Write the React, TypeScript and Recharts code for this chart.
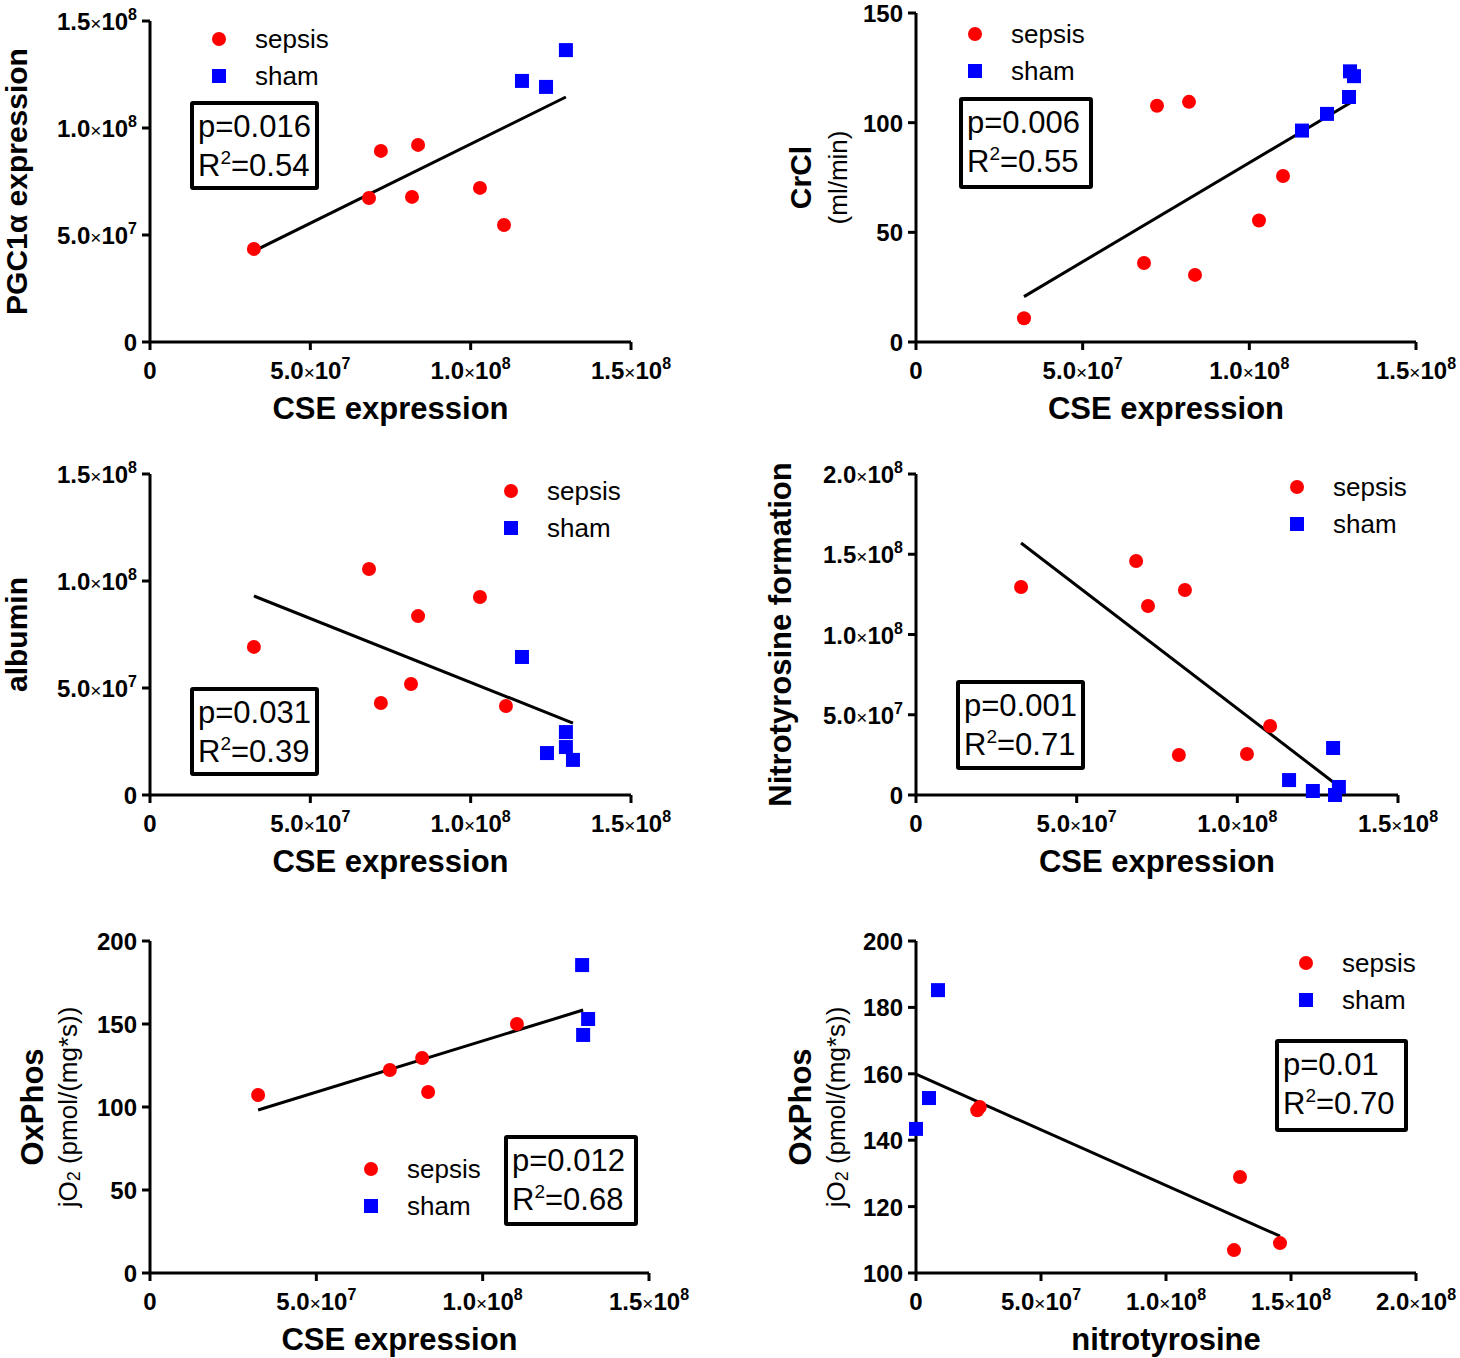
import React from 'react';
import { ScatterChart, Scatter, XAxis, YAxis, ReferenceLine, Legend } from 'recharts';

const FONT = '"Liberation Sans", Arial, Helvetica, sans-serif';
const RED = '#ff0000';
const BLUE = '#0000ff';
const X_AXIS_H = 40;
const Y_AXIS_W = 60;

type Pt = { x: number; y: number };
const pts = (rows: number[][], sx: number, sy: number): Pt[] =>
  rows.map(([x, y]) => ({ x: x * sx, y: y * sy }));
const M = 1e6;

// tick values
const cseTicks = [0, 5e7, 1e8, 1.5e8];
const pgcTicks = [0, 5e7, 1e8, 1.5e8];
const crclTicks = [0, 50, 100, 150];
const albTicks = [0, 5e7, 1e8, 1.5e8];
const nitroTicks = [0, 5e7, 1e8, 1.5e8, 2e8];
const oxTicks = [0, 50, 100, 150, 200];
const nitroXTicks = [0, 5e7, 1e8, 1.5e8, 2e8];
const ox2Ticks = [100, 120, 140, 160, 180, 200];

// PGC1a vs CSE (both in millions)
const pgcSepsis = pts([[32.4, 43.5], [68.3, 67.3], [72.0, 89.3], [83.6, 92.1], [81.7, 67.8], [102.9, 72.0], [110.4, 54.7]], M, M);
const pgcSham = pts([[116.0, 122.0], [123.5, 119.2], [129.7, 136.4]], M, M);
const pgcFit = pts([[32.4, 42.5], [129.7, 114.5]], M, M);

// CrCl vs CSE
const crclSepsis = pts([[32.4, 10.8], [68.4, 36], [72.3, 107.7], [81.9, 109.5], [83.7, 30.6], [102.9, 55.4], [110.1, 75.7]], M, 1);
const crclSham = pts([[115.8, 96.4], [123.3, 104], [129.9, 111.7], [130.2, 123.4], [131.4, 121.2]], M, 1);
const crclFit = pts([[32.4, 20.7], [130.2, 109]], M, 1);

// albumin vs CSE
const albSepsis = pts([[32.4, 69.2], [68.3, 105.6], [72.0, 43], [81.4, 51.9], [83.6, 83.6], [102.9, 92.5], [111, 41.6]], M, M);
const albSham = pts([[116, 64.5], [123.8, 19.6], [129.7, 29.4], [129.7, 22.4], [131.9, 16.4]], M, M);
const albFit = pts([[32.4, 93], [131.9, 33.6]], M, M);

// nitrotyrosine vs CSE
const nitroSepsis = pts([[32.7, 129.6], [68.5, 145.8], [72.2, 117.8], [83.7, 127.7], [81.8, 24.9], [103, 25.5], [110.2, 43]], M, M);
const nitroSham = pts([[116.1, 9.3], [123.5, 2.5], [129.8, 29.3], [130.4, 0], [131.6, 5]], M, M);
const nitroFit = pts([[32.7, 157], [129.8, 8.1]], M, M);

// OxPhos vs CSE
const oxSepsis = pts([[32.5, 107.2], [72.1, 122.3], [81.8, 129.5], [83.6, 109], [110.3, 150]], M, 1);
const oxSham = pts([[129.9, 185.5], [130.2, 143.4], [131.7, 153]], M, 1);
const oxFit = pts([[32.5, 98.2], [130.2, 158.4]], M, 1);

// OxPhos vs nitrotyrosine
const ox2Sepsis = pts([[24.5, 149.0], [25.5, 150.0], [127.2, 106.9], [129.6, 128.9], [145.6, 109]], M, 1);
const ox2Sham = pts([[0, 143.4], [5.2, 152.7], [8.8, 185.2]], M, 1);
const ox2Fit = pts([[0, 159.9], [145.6, 111.1]], M, 1);

function tickParts(v: number) {
  if (v === 0 || v < 1e4) return [<tspan key="m">{v}</tspan>];
  const exp = Math.floor(Math.log10(v) + 1e-9);
  const man = (v / Math.pow(10, exp)).toFixed(1);
  return [
    <tspan key="m">{man}</tspan>,
    <tspan key="t" fontSize={19} fontWeight="normal">×</tspan>,
    <tspan key="b">10</tspan>,
    <tspan key="e" fontSize={16} dy={-10}>{exp}</tspan>,
  ];
}

const XTick = ({ x, y, payload }: any) => (
  <text x={x} y={y} dy={19} textAnchor="middle" fontSize={24} fontWeight="bold" fill="#000">
    {tickParts(payload.value)}
  </text>
);

const YTick = ({ x, y, payload }: any) => (
  <text x={x} y={y} dy={9} textAnchor="end" fontSize={24} fontWeight="bold" fill="#000">
    {tickParts(payload.value)}
  </text>
);

const circleShape = (p: any) => <circle cx={p.cx} cy={p.cy} r={7} fill={RED} />;
const squareShape = (p: any) => <rect x={p.cx - 7} y={p.cy - 7} width={14} height={14} fill={BLUE} />;

type TitleLine = { content: React.ReactNode; offset: number; size: number; bold: boolean };

const YTitle = ({ viewBox, lines }: any) => {
  const ax = viewBox.x + viewBox.width;
  const cy = viewBox.y + viewBox.height / 2;
  return (
    <g>
      {(lines as TitleLine[]).map((l, i) => (
        <text
          key={i}
          transform={`translate(${ax - l.offset},${cy}) rotate(-90)`}
          textAnchor="middle"
          dominantBaseline="central"
          fontSize={l.size}
          fontWeight={l.bold ? 'bold' : 'normal'}
          fill="#000"
        >
          {l.content}
        </text>
      ))}
    </g>
  );
};

const XTitle = ({ viewBox, text }: any) => (
  <text
    x={viewBox.x + viewBox.width / 2}
    y={viewBox.y + 77}
    textAnchor="middle"
    fontSize={31}
    fontWeight="bold"
    fill="#000"
  >
    {text}
  </text>
);

const GroupLegend = ({ payload }: any) => (
  <div style={{ fontFamily: FONT, fontSize: 26, color: '#000' }}>
    {(payload || []).map((e: any) => (
      <div key={e.value} style={{ display: 'flex', alignItems: 'center', height: 37 }}>
        <svg width={14} height={14}>
          {e.value === 'sepsis' ? (
            <circle cx={7} cy={7} r={7} fill={RED} />
          ) : (
            <rect x={0} y={0} width={14} height={14} fill={BLUE} />
          )}
        </svg>
        <span style={{ marginLeft: 29 }}>{e.value}</span>
      </div>
    ))}
  </div>
);

interface PanelProps {
  box: { left: number; top: number; width: number; height: number };
  plot: { x0: number; x1: number; y0: number; y1: number };
  xDomain: [number, number];
  xTicks: number[];
  yDomain: [number, number];
  yTicks: number[];
  sepsis: Pt[];
  sham: Pt[];
  fit: Pt[];
  xTitle: string;
  yTitle: TitleLine[];
  legendAt: { x: number; y: number };
  stats: { p: string; r2: string; left: number; top: number; width: number; height: number };
}

function Panel(props: PanelProps) {
  const { box, plot, stats, legendAt } = props;
  const axisStyle = { stroke: '#000', strokeWidth: 3 };
  return (
    <>
      <div style={{ position: 'absolute', left: box.left, top: box.top }}>
        <ScatterChart
          width={box.width}
          height={box.height}
          margin={{
            top: plot.y0 - box.top,
            left: plot.x0 - box.left - Y_AXIS_W,
            right: box.left + box.width - plot.x1,
            bottom: box.top + box.height - plot.y1 - X_AXIS_H,
          }}
        >
          <XAxis
            type="number"
            dataKey="x"
            domain={props.xDomain}
            ticks={props.xTicks}
            interval={0}
            height={X_AXIS_H}
            tickSize={8}
            tickMargin={10}
            axisLine={axisStyle}
            tickLine={axisStyle}
            tick={<XTick />}
            label={<XTitle text={props.xTitle} />}
          />
          <YAxis
            type="number"
            dataKey="y"
            domain={props.yDomain}
            ticks={props.yTicks}
            interval={0}
            width={Y_AXIS_W}
            tickSize={8}
            tickMargin={5}
            axisLine={axisStyle}
            tickLine={axisStyle}
            tick={<YTick />}
            label={<YTitle lines={props.yTitle} />}
          />
          <ReferenceLine segment={props.fit} stroke="#000" strokeWidth={3} ifOverflow="visible" />
          <Scatter name="sepsis" data={props.sepsis} fill={RED} shape={circleShape} isAnimationActive={false} />
          <Scatter name="sham" data={props.sham} fill={BLUE} shape={squareShape} isAnimationActive={false} />
          <Legend
            layout="vertical"
            align="center"
            verticalAlign="middle"
            content={<GroupLegend />}
            wrapperStyle={{ left: legendAt.x - 7 - box.left, top: legendAt.y - 18.5 - box.top, width: 'auto' }}
          />
        </ScatterChart>
      </div>
      <div
        style={{
          position: 'absolute',
          left: stats.left,
          top: stats.top,
          width: stats.width,
          height: stats.height,
          border: '4px solid #000',
          borderRadius: 3,
          boxSizing: 'border-box',
          fontSize: 31,
          lineHeight: '39px',
          paddingLeft: 4,
          paddingTop: 2,
          color: '#000',
          whiteSpace: 'nowrap',
        }}
      >
        <div>p={stats.p}</div>
        <div>
          R<span style={{ fontSize: 19, position: 'relative', top: -12 }}>2</span>={stats.r2}
        </div>
      </div>
    </>
  );
}

const jo2 = (
  <>
    jO<tspan fontSize={18} dy={6}>2</tspan>
    <tspan dy={-6}> (pmol/(mg*s))</tspan>
  </>
);

export default function App() {
  return (
    <div
      style={{
        position: 'absolute',
        left: 0,
        top: 0,
        width: 1460,
        height: 1358,
        background: '#fff',
        fontFamily: FONT,
        overflow: 'hidden',
      }}
    >
      <Panel
        box={{ left: 0, top: 0, width: 730, height: 453 }}
        plot={{ x0: 150, x1: 631, y0: 21, y1: 342 }}
        xDomain={[0, 1.5e8]}
        xTicks={cseTicks}
        yDomain={[0, 1.5e8]}
        yTicks={pgcTicks}
        sepsis={pgcSepsis}
        sham={pgcSham}
        fit={pgcFit}
        xTitle="CSE expression"
        yTitle={[{ content: 'PGC1α expression', offset: 134, size: 30, bold: true }]}
        legendAt={{ x: 219, y: 39 }}
        stats={{ p: '0.016', r2: '0.54', left: 190, top: 101, width: 129, height: 89 }}
      />
      <Panel
        box={{ left: 730, top: 0, width: 730, height: 453 }}
        plot={{ x0: 916, x1: 1416, y0: 13, y1: 342 }}
        xDomain={[0, 1.5e8]}
        xTicks={cseTicks}
        yDomain={[0, 150]}
        yTicks={crclTicks}
        sepsis={crclSepsis}
        sham={crclSham}
        fit={crclFit}
        xTitle="CSE expression"
        yTitle={[
          { content: 'CrCl', offset: 116, size: 30, bold: true },
          { content: '(ml/min)', offset: 78, size: 26, bold: false },
        ]}
        legendAt={{ x: 975, y: 34 }}
        stats={{ p: '0.006', r2: '0.55', left: 959, top: 97, width: 134, height: 92 }}
      />
      <Panel
        box={{ left: 0, top: 453, width: 730, height: 453 }}
        plot={{ x0: 150, x1: 631, y0: 474, y1: 795 }}
        xDomain={[0, 1.5e8]}
        xTicks={cseTicks}
        yDomain={[0, 1.5e8]}
        yTicks={albTicks}
        sepsis={albSepsis}
        sham={albSham}
        fit={albFit}
        xTitle="CSE expression"
        yTitle={[{ content: 'albumin', offset: 134, size: 30, bold: true }]}
        legendAt={{ x: 511, y: 491 }}
        stats={{ p: '0.031', r2: '0.39', left: 190, top: 687, width: 129, height: 89 }}
      />
      <Panel
        box={{ left: 730, top: 453, width: 730, height: 453 }}
        plot={{ x0: 916, x1: 1398, y0: 474, y1: 795 }}
        xDomain={[0, 1.5e8]}
        xTicks={cseTicks}
        yDomain={[0, 2e8]}
        yTicks={nitroTicks}
        sepsis={nitroSepsis}
        sham={nitroSham}
        fit={nitroFit}
        xTitle="CSE expression"
        yTitle={[{ content: 'Nitrotyrosine formation', offset: 136, size: 31, bold: true }]}
        legendAt={{ x: 1297, y: 487 }}
        stats={{ p: '0.001', r2: '0.71', left: 956, top: 680, width: 129, height: 90 }}
      />
      <Panel
        box={{ left: 0, top: 906, width: 730, height: 452 }}
        plot={{ x0: 150, x1: 649, y0: 941, y1: 1273 }}
        xDomain={[0, 1.5e8]}
        xTicks={cseTicks}
        yDomain={[0, 200]}
        yTicks={oxTicks}
        sepsis={oxSepsis}
        sham={oxSham}
        fit={oxFit}
        xTitle="CSE expression"
        yTitle={[
          { content: 'OxPhos', offset: 118, size: 31, bold: true },
          { content: jo2, offset: 82, size: 26, bold: false },
        ]}
        legendAt={{ x: 371, y: 1169 }}
        stats={{ p: '0.012', r2: '0.68', left: 504, top: 1135, width: 134, height: 91 }}
      />
      <Panel
        box={{ left: 730, top: 906, width: 730, height: 452 }}
        plot={{ x0: 916, x1: 1416, y0: 941, y1: 1273 }}
        xDomain={[0, 2e8]}
        xTicks={nitroXTicks}
        yDomain={[100, 200]}
        yTicks={ox2Ticks}
        sepsis={ox2Sepsis}
        sham={ox2Sham}
        fit={ox2Fit}
        xTitle="nitrotyrosine"
        yTitle={[
          { content: 'OxPhos', offset: 116, size: 31, bold: true },
          { content: jo2, offset: 80, size: 26, bold: false },
        ]}
        legendAt={{ x: 1306, y: 963 }}
        stats={{ p: '0.01', r2: '0.70', left: 1275, top: 1039, width: 133, height: 93 }}
      />
    </div>
  );
}
